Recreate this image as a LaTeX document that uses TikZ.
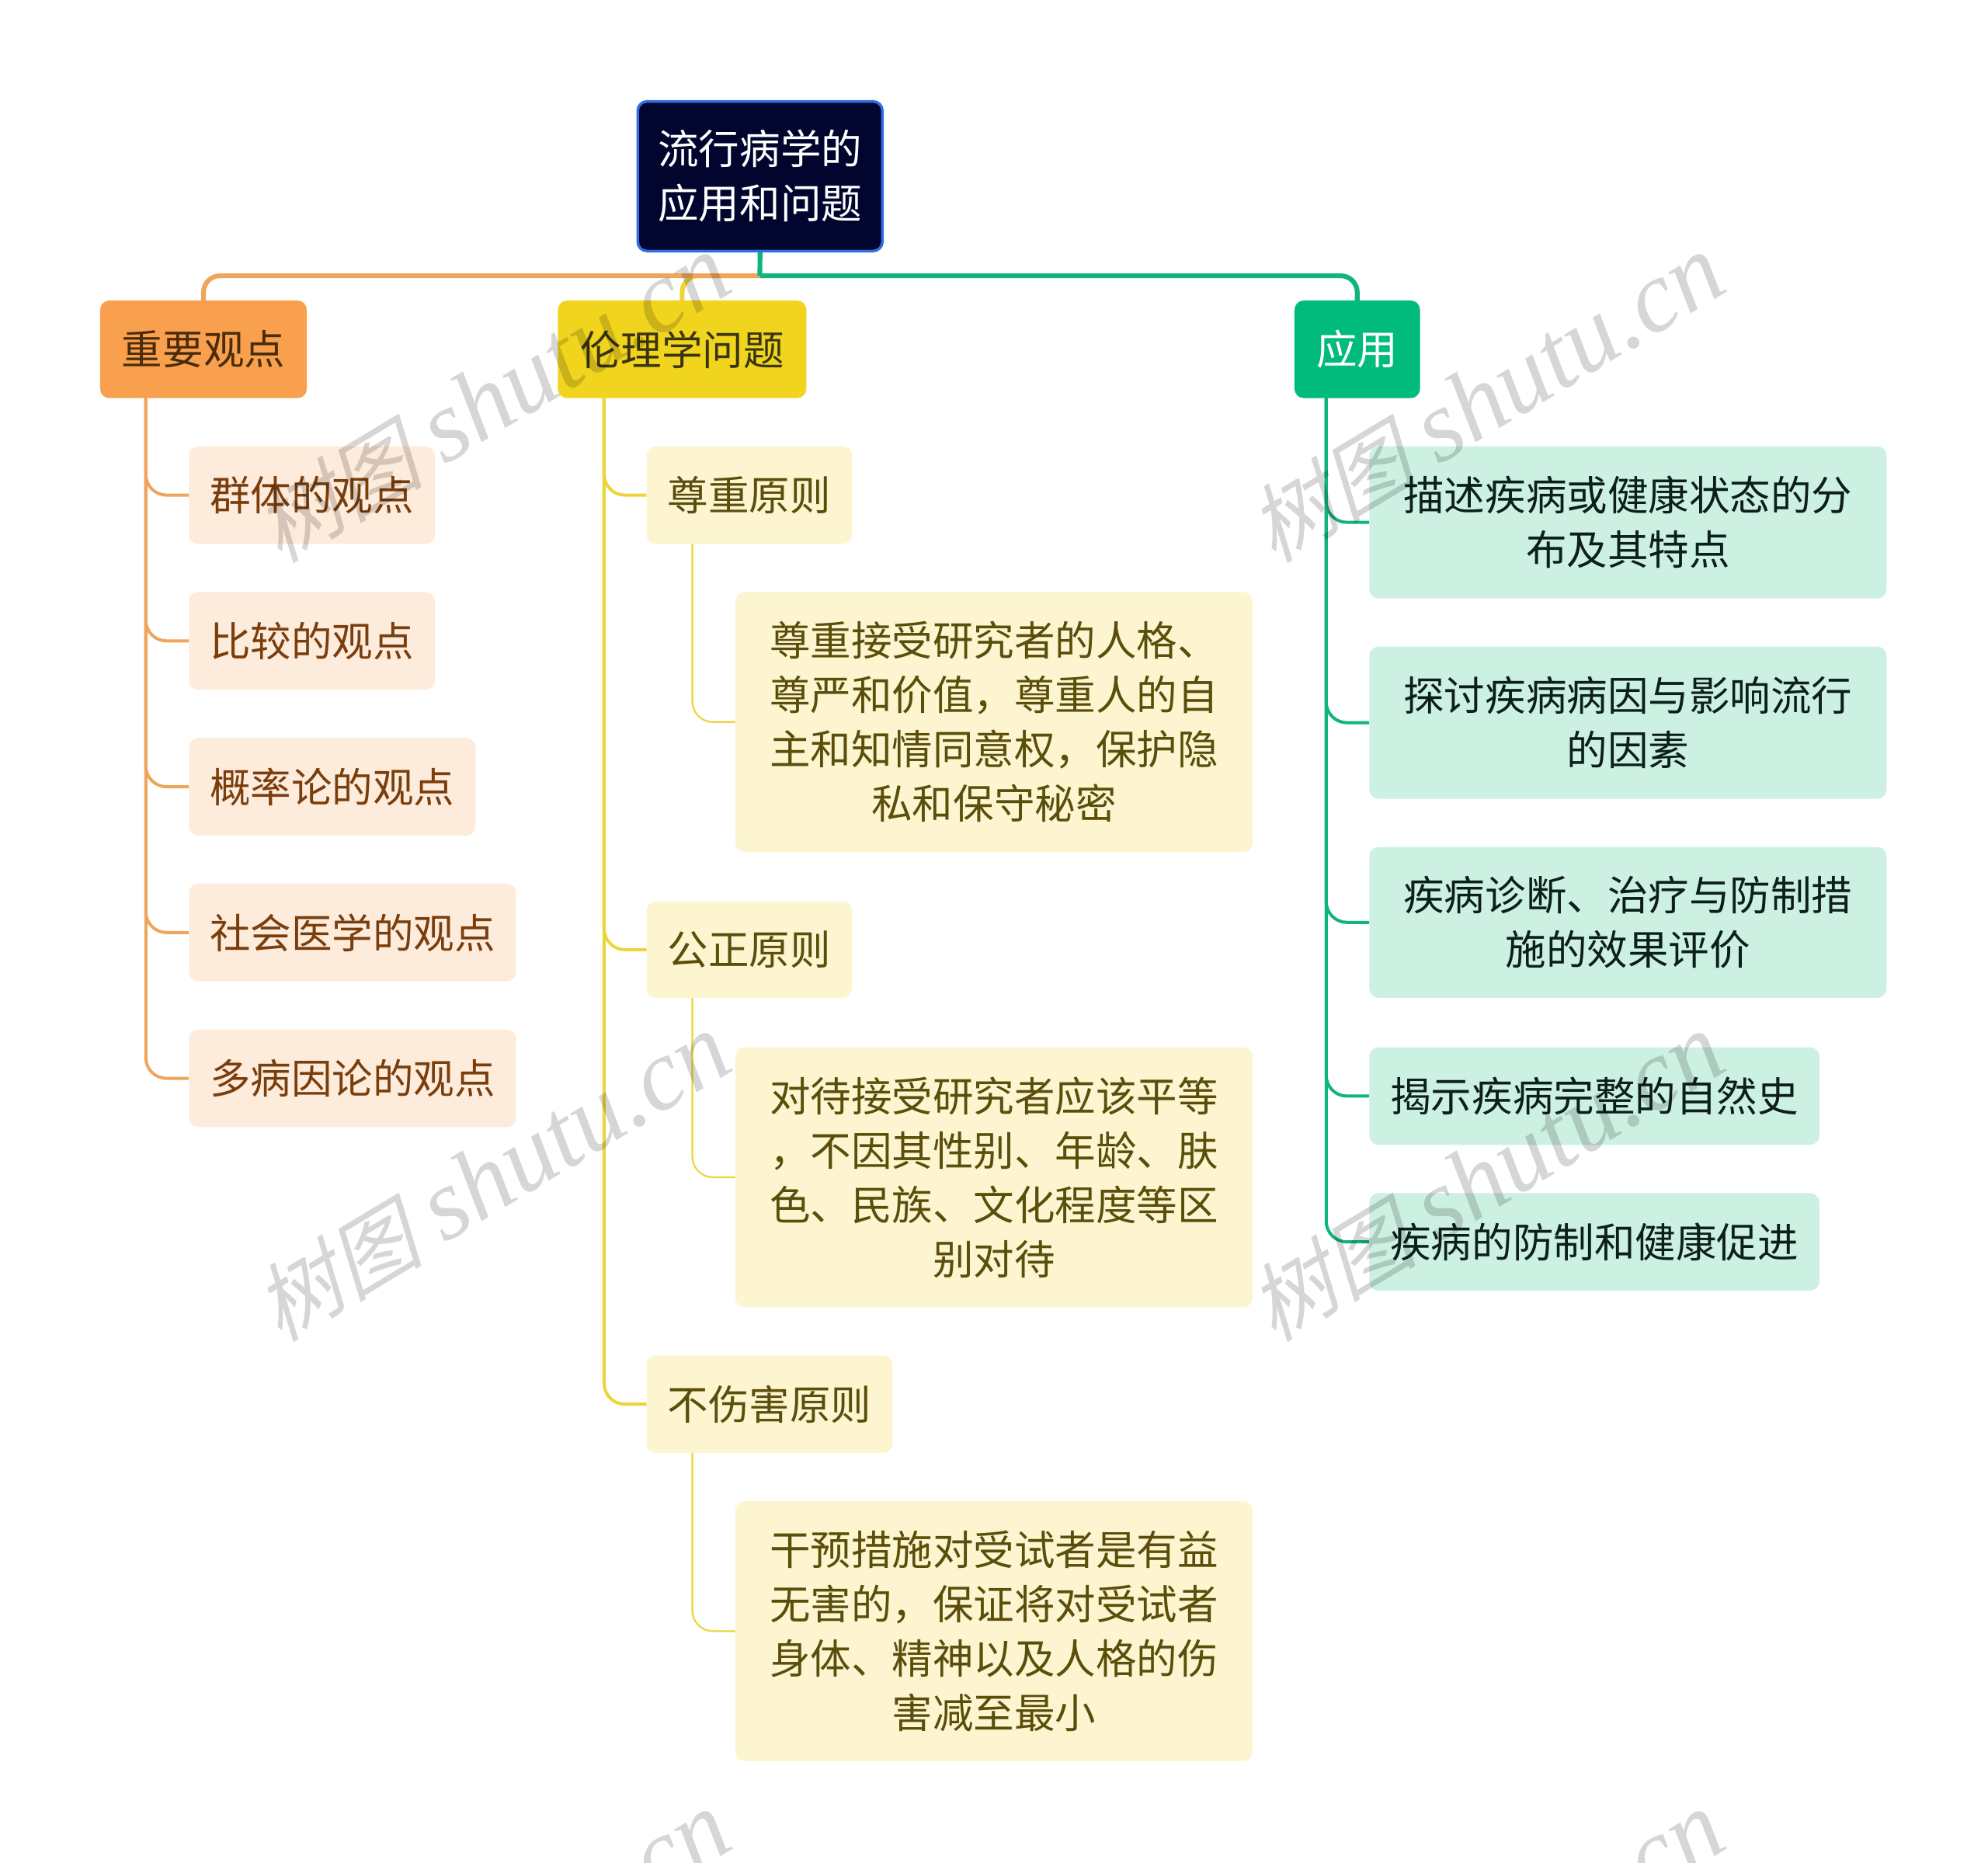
\documentclass[tikz,border=0pt]{standalone}
\usepackage{fontspec}
\usetikzlibrary{backgrounds}
\setmainfont{Noto Sans CJK SC}
\newfontfamily\wmcjk[FakeSlant=0.25]{Noto Sans CJK SC}
\newfontfamily\wmlat{Liberation Serif}[ItalicFont=* Italic]
\definecolor{cRootFill}{HTML}{02062E}
\definecolor{cRootLine}{HTML}{2F6FE0}
\definecolor{cOrange}{HTML}{F8A04E}
\definecolor{cYellow}{HTML}{F0D41E}
\definecolor{cGreen}{HTML}{00BB7C}
\definecolor{cOrangeLine}{HTML}{F0A55C}
\definecolor{cYellowLine}{HTML}{EDD538}
\definecolor{cGreenLine}{HTML}{10B57A}
\definecolor{cOrangeLight}{HTML}{FDEBDC}
\definecolor{cYellowLight}{HTML}{FCF5D0}
\definecolor{cGreenLight}{HTML}{CCF1E2}
\definecolor{tOrange}{HTML}{7A3E0C}
\definecolor{tYellow}{HTML}{5A4E0A}
\definecolor{tOrangeTop}{HTML}{4A2C0A}
\definecolor{tYellowTop}{HTML}{3A3410}
\definecolor{tGreenDark}{HTML}{0C1F18}
\tikzset{
  basebox/.style={inner sep=0pt,outer sep=0pt,align=center,rounded corners=4.5pt,
    font=\fontsize{19.7}{26.25}\selectfont},
  rootbox/.style={basebox,fill=cRootFill,draw=cRootLine,line width=1.3pt,text=white},
  topO/.style={basebox,fill=cOrange,text=tOrangeTop},
  topY/.style={basebox,fill=cYellow,text=tYellowTop},
  topG/.style={basebox,fill=cGreen,text=white},
  subO/.style={basebox,fill=cOrangeLight,text=tOrange},
  subY/.style={basebox,fill=cYellowLight,text=tYellow},
  subG/.style={basebox,fill=cGreenLight,text=tGreenDark},
  mainO/.style={draw=cOrangeLine,line width=2.3pt,rounded corners=8pt},
  mainY/.style={draw=cYellowLine,line width=2.3pt,rounded corners=8pt},
  mainG/.style={draw=cGreenLine,line width=2.3pt,rounded corners=8pt},
  linkO/.style={draw=cOrangeLine,line width=1.5pt,rounded corners=10pt},
  linkY/.style={draw=cYellowLine,line width=1.5pt,rounded corners=10pt},
  linkG/.style={draw=cGreenLine,line width=1.5pt,rounded corners=10pt},
  thinY/.style={draw=cYellowLine,line width=.8pt,rounded corners=10pt},
  wmark/.style={inner sep=0pt,rotate=31,text=black,text opacity=.16,font=\fontsize{49}{52}\selectfont},
}
\newcommand{\bx}[7]{%
  \pgfmathsetmacro{\bcx}{(#3+#5)/2}%
  \pgfmathsetmacro{\bcy}{(#4+#6)/2}%
  \pgfmathsetmacro{\bwd}{(#5-#3)*0.61224}%
  \pgfmathsetmacro{\bht}{(#6-#4)*0.61224}%
  \node[#1,minimum width=\bwd pt,minimum height=\bht pt] (#2) at (\bcx,\bcy) {#7};%
}
\newcommand{\wm}[2]{\node[wmark] (wm#1#2) at (#1,#2) {{\wmcjk\fontsize{41}{44}\selectfont 树图} {\wmlat\itshape shutu.cn}};}
\begin{document}
\begin{tikzpicture}[x=0.61224pt,y=-0.61224pt]
\useasboundingbox (0,0) rectangle (1568,1469.3);
\bx{rootbox}{r}{503}{80}{696}{198}{流行病学的\\应用和问题}
\bx{topO}{a}{79}{237}{242}{314}{重要观点}
\bx{topY}{b}{440}{237}{636}{314}{伦理学问题}
\bx{topG}{c}{1021}{237}{1120}{314}{应用}
\bx{subO}{a1}{149}{352}{343}{429}{群体的观点}
\bx{subO}{a2}{149}{467}{343}{544}{比较的观点}
\bx{subO}{a3}{149}{582}{375}{659}{概率论的观点}
\bx{subO}{a4}{149}{697}{407}{774}{社会医学的观点}
\bx{subO}{a5}{149}{812}{407}{889}{多病因论的观点}
\bx{subY}{b1}{510}{352}{672}{429}{尊重原则}
\bx{subY}{b1d}{580}{467}{988}{672}{尊重接受研究者的人格、\\尊严和价值，尊重人的自\\主和知情同意权，保护隐\\私和保守秘密}
\bx{subY}{b2}{510}{711}{672}{787}{公正原则}
\bx{subY}{b2d}{580}{826}{988}{1031}{对待接受研究者应该平等\\，不因其性别、年龄、肤\\色、民族、文化程度等区\\别对待}
\bx{subY}{b3}{510}{1069}{704}{1146}{不伤害原则}
\bx{subY}{b3d}{580}{1184}{988}{1389}{干预措施对受试者是有益\\无害的，保证将对受试者\\身体、精神以及人格的伤\\害减至最小}
\bx{subG}{c1}{1080}{352}{1488}{472}{描述疾病或健康状态的分\\布及其特点}
\bx{subG}{c2}{1080}{510}{1488}{630}{探讨疾病病因与影响流行\\的因素}
\bx{subG}{c3}{1080}{668}{1488}{787}{疾病诊断、治疗与防制措\\施的效果评价}
\bx{subG}{c4}{1080}{826}{1435}{903}{揭示疾病完整的自然史}
\bx{subG}{c5}{1080}{941}{1435}{1018}{疾病的防制和健康促进}
\coordinate (j) at (599.3,217.5);
\coordinate (ax) at (115,314);
\coordinate (bx) at (476.5,314);
\coordinate (cx) at (1046,314);
\coordinate (b1x) at (546,429);
\coordinate (b2x) at (546,787);
\coordinate (b3x) at (546,1146);
\begin{pgfonlayer}{background}
\fill[white] (0,0) rectangle (1568,1469.3);
\draw[mainY] (j) -| (b.north);
\draw[mainO] (j) -| (a.north);
\draw[mainG] (j) -| (c.north);
\draw[mainG,rounded corners=0pt] (r.south) -- (j);
\foreach \n in {a1,a2,a3,a4,a5}{\draw[linkO] (ax) |- (\n.west);}
\foreach \n in {b1,b2,b3}{\draw[linkY] (bx) |- (\n.west);}
\foreach \n in {c1,c2,c3,c4,c5}{\draw[linkG] (cx) |- (\n.west);}
\draw[thinY] (b1x) |- (b1d.west);
\draw[thinY] (b2x) |- (b2d.west);
\draw[thinY] (b3x) |- (b3d.west);
\end{pgfonlayer}
\begin{scope}
\clip (0,0) rectangle (1568,1469.3);
\wm{388}{315}\wm{1172}{315}
\wm{388}{929}\wm{1172}{929}
\wm{388}{1543}\wm{1172}{1543}
\end{scope}
\end{tikzpicture}
\end{document}
